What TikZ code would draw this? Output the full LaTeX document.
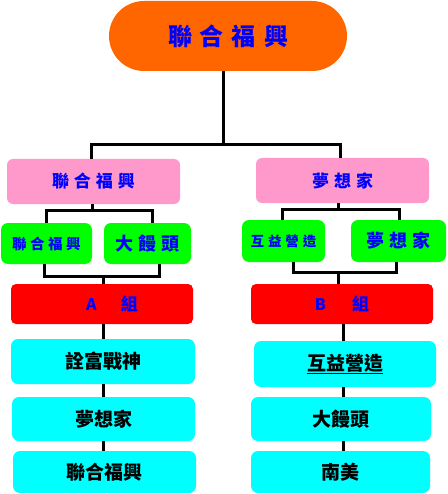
\documentclass[tikz,border=0pt]{standalone}
\usepackage{fontspec}
\newfontfamily\cjk{Noto Sans CJK TC}
\setmainfont{Liberation Serif}
\begin{document}
\begin{tikzpicture}[x=1pt,y=-1pt,
  box/.style={rectangle,inner sep=0pt,font=\cjk\bfseries},
  orangebox/.style={box,fill={rgb,255:red,255;green,102;blue,0},rounded corners=35pt,text=blue},
  pinkbox/.style={box,fill={rgb,255:red,255;green,153;blue,204},rounded corners=6pt,text=blue},
  greenbox/.style={box,fill={rgb,255:red,0;green,255;blue,0},rounded corners=7pt,text=blue},
  redbox/.style={box,fill={rgb,255:red,255;green,0;blue,0},rounded corners=5pt,text=blue},
  cyanbox/.style={box,fill={rgb,255:red,0;green,255;blue,255},rounded corners=7pt,text=black,font=\cjk\bfseries\fontsize{19}{19}\selectfont},
  conn/.style={draw=black,line width=3pt}]
\useasboundingbox (0,0) rectangle (447,494);
% nodes
\node[orangebox,minimum width=238pt,minimum height=70pt,font=\cjk\bfseries\fontsize{24}{24}\selectfont] (top) at (228,36) {聯\hspace{8pt}合\hspace{8pt}福\hspace{8pt}興};
\node[pinkbox,minimum width=173pt,minimum height=45pt,font=\cjk\bfseries\fontsize{17}{17}\selectfont] (pinkL) at (93.5,181.5) {聯\hspace{5pt}合\hspace{5pt}福\hspace{5pt}興};
\node[pinkbox,minimum width=173pt,minimum height=45pt,font=\cjk\bfseries\fontsize{17}{17}\selectfont] (pinkR) at (342.5,180.5) {夢\hspace{5pt}想\hspace{5pt}家};
\node[greenbox,minimum width=91pt,minimum height=41pt,font=\cjk\bfseries\fontsize{14.5}{14.5}\selectfont] (gL1) at (46.5,243.5) {聯\hspace{3.5pt}合\hspace{3.5pt}福\hspace{3.5pt}興};
\node[greenbox,minimum width=87pt,minimum height=41pt,font=\cjk\bfseries\fontsize{18}{18}\selectfont] (gL2) at (147.5,243.5) {大\hspace{5pt}饅\hspace{5pt}頭};
\node[greenbox,minimum width=83pt,minimum height=42pt,font=\cjk\bfseries\fontsize{13.5}{13.5}\selectfont] (gR1) at (283.5,241) {互\hspace{4pt}益\hspace{4pt}營\hspace{4pt}造};
\node[greenbox,minimum width=95pt,minimum height=42pt,font=\cjk\bfseries\fontsize{18}{18}\selectfont] (gR2) at (398.5,241) {夢\hspace{5pt}想\hspace{5pt}家};
\node[redbox,minimum width=182pt,minimum height=40pt] (redA) at (102,304) {\hspace{20pt}{\bfseries\fontsize{16}{16}\selectfont A}\hspace{24pt}{\cjk\bfseries\fontsize{17}{17}\selectfont 組}};
\node[redbox,minimum width=182pt,minimum height=40pt] (redB) at (342,304) {{\bfseries\fontsize{16}{16}\selectfont B}\hspace{26pt}{\cjk\bfseries\fontsize{17}{17}\selectfont 組}};
\node[cyanbox,minimum width=184pt,minimum height=45pt] (cA1) at (103,361.5) {詮富戰神};
\node[cyanbox,minimum width=183pt,minimum height=44pt] (cA2) at (103.5,419) {夢想家};
\node[cyanbox,minimum width=183pt,minimum height=42pt] (cA3) at (104.5,472) {聯合福興};
\node[cyanbox,minimum width=182pt,minimum height=46pt] (cB1) at (345,364) {\underline{互益營造}};
\node[cyanbox,minimum width=180pt,minimum height=44pt] (cB2) at (341,419) {大饅頭};
\node[cyanbox,minimum width=179pt,minimum height=42pt] (cB3) at (340.5,472) {南美};
% junction coordinates
\coordinate (j0) at (223,145);
\coordinate (jL) at (92.7,210);
\coordinate (jLl) at (46,210);
\coordinate (jLr) at (152,210);
\coordinate (kL) at (103,276);
\coordinate (kLl) at (44,276);
\coordinate (kLr) at (159,276);
\coordinate (jR) at (338,209);
\coordinate (jRl) at (282,209);
\coordinate (jRr) at (399,209);
\coordinate (kR) at (338,272);
\coordinate (kRl) at (293,272);
\coordinate (kRr) at (396,272);
\coordinate (vB) at (343,330);
% connectors
\draw[conn] (top.south -| j0) -- (j0);
\draw[conn] (pinkL.north -| 91,0) |- (j0) -| (pinkR.north -| 340,0);
\draw[conn] (pinkL.south -| jL) -- (jL);
\draw[conn] (gL1.north -| jLl) |- (jLr) -- (gL2.north -| jLr);
\draw[conn] (gL1.south -| kLl) |- (kLr) -- (gL2.south -| kLr);
\draw[conn] (kL) -- (redA.north -| kL);
\draw[conn] (redA.south -| kL) -- (cA1.north -| kL);
\draw[conn] (cA1.south -| kL) -- (cA2.north -| kL);
\draw[conn] (cA2.south -| kL) -- (cA3.north -| kL);
\draw[conn] (pinkR.south -| jR) -- (jR);
\draw[conn] (gR1.north -| jRl) |- (jRr) -- (gR2.north -| jRr);
\draw[conn] (gR1.south -| kRl) |- (kRr) -- (gR2.south -| kRr);
\draw[conn] (kR) -- (redB.north -| kR);
\draw[conn] (redB.south -| vB) -- (cB1.north -| vB);
\draw[conn] (cB1.south -| vB) -- (cB2.north -| vB);
\draw[conn] (cB2.south -| vB) -- (cB3.north -| vB);
\end{tikzpicture}
\end{document}
